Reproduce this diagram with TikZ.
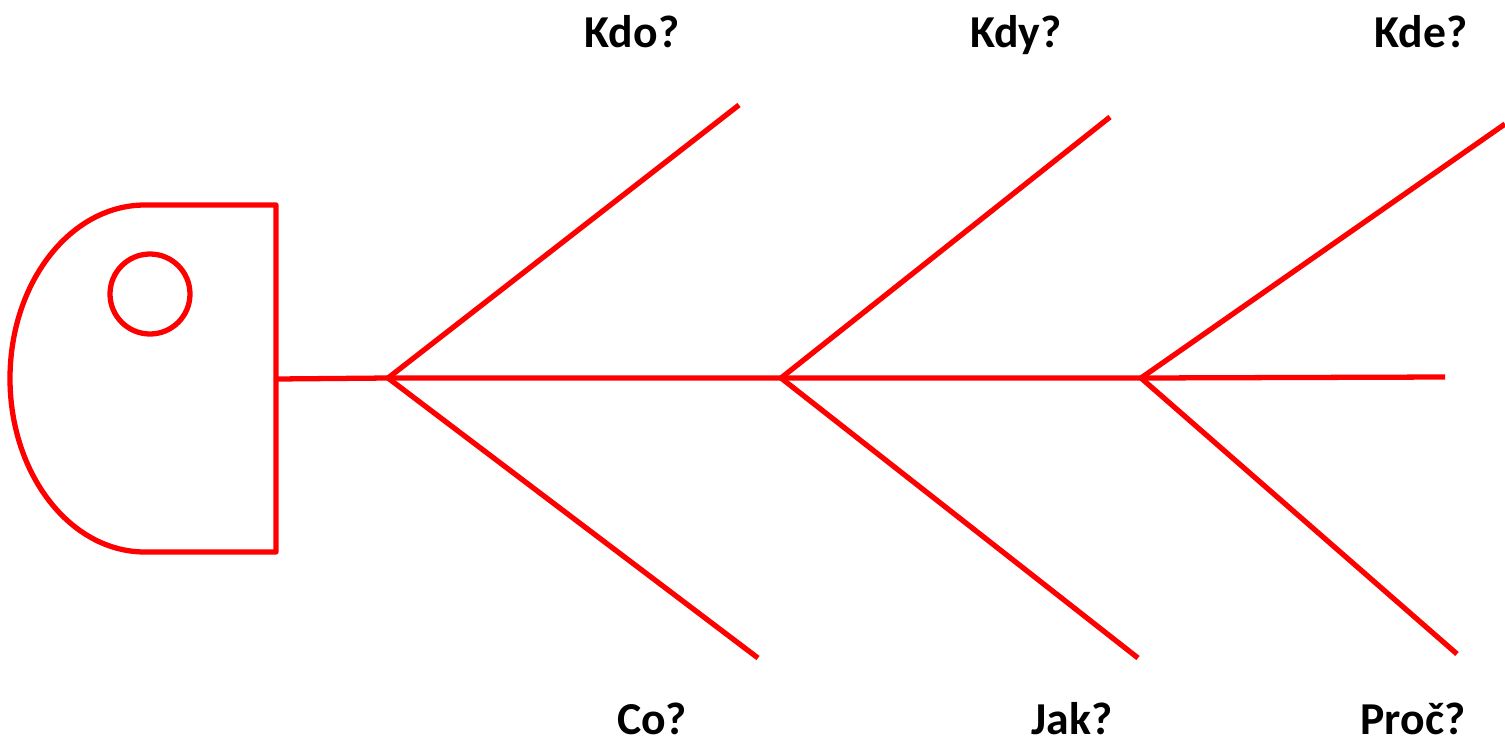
\documentclass[tikz,border=0pt]{standalone}
\usepackage{fontspec}
\setmainfont{Carlito}
\usepackage{xcolor}

\tikzset{
  bone/.style={draw=red, line width=3pt},
  question/.style={font=\fontsize{26}{30}\selectfont\bfseries, anchor=base, inner sep=0pt}
}

\begin{document}
\begin{tikzpicture}[x=0.02cm, y=-0.02cm]
\useasboundingbox (0,0) rectangle (1505,745);
% head
\draw[bone, line join=round] (145,552) arc[start angle=90, end angle=270, x radius=135, y radius=173.5]
      -- (276,205) -- (276,552) -- cycle;
\draw[bone] (150,294) circle (40);
% spine
\coordinate (neck) at (276,379);
\coordinate (joint1) at (388,378);
\coordinate (joint2) at (781,378);
\coordinate (joint3) at (1141,378);
\coordinate (tail) at (1445,377);
\draw[bone] (neck) -- (joint1) -- (joint2) -- (joint3) -- (tail);
% upper bones
\coordinate (tip1) at (739,105);
\coordinate (tip2) at (1110,117);
\coordinate (tip3) at (1505,124);
\draw[bone] (joint1) -- (tip1);
\draw[bone] (joint2) -- (tip2);
\draw[bone] (joint3) -- (tip3);
% lower bones
\coordinate (tip4) at (758,658);
\coordinate (tip5) at (1138,658);
\coordinate (tip6) at (1457,654);
\draw[bone] (joint1) -- (tip4);
\draw[bone] (joint2) -- (tip5);
\draw[bone] (joint3) -- (tip6);
% labels
\node[question] (kdo) at (632,47) {Kdo?};
\node[question] (kdy) at (1016,47) {Kdy?};
\node[question] (kde) at (1421,47) {Kde?};
\node[question] (co) at (652,734) {Co?};
\node[question] (jak) at (1072,734) {Jak?};
\node[question] (proc) at (1413,734) {Proč?};
\end{tikzpicture}
\end{document}
